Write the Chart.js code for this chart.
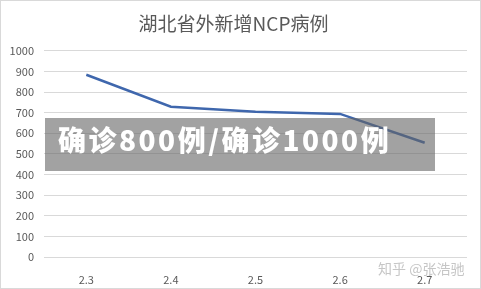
<!DOCTYPE html>
<html>
<head>
<meta charset="utf-8">
<script src="https://cdn.jsdelivr.net/npm/chart.js@4"></script>
<style>
  html, body { margin: 0; padding: 0; background: #fff; }
  #wrap { position: relative; width: 481px; height: 289px; }
  #frame { position: absolute; left: 0; top: 0; width: 479px; height: 287px; border: 1px solid #d9d9d9; pointer-events: none; }
  #band { position: absolute; left: 45px; top: 118px; width: 390px; height: 53px; background: rgba(100,100,100,0.6); }
  #bandText { position: absolute; left: 58px; top: 119px; color: #fff; font: 900 28px "Noto Sans CJK SC", sans-serif; letter-spacing: 2.5px; white-space: nowrap; }
  #mark { position: absolute; left: 378px; top: 258px; color: rgba(160,160,160,0.6); font: 14px "Noto Sans CJK SC", sans-serif; white-space: nowrap; }
</style>
</head>
<body>
<div id="wrap">
  <canvas id="chart" width="481" height="289"></canvas>
  <div id="band"></div>
  <div id="bandText">确诊800例/确诊1000例</div>
  <div id="mark">知乎 @张浩驰</div>
  <div id="frame"></div>
</div>
<script>
  // 日期与新增病例
  const dias = ['2.3', '2.4', '2.5', '2.6', '2.7'];
  const casos = [884, 729, 704, 694, 554];
  const titulo = '湖北省外新增NCP病例';

  const cinza = '#595959';

  const config = {
    type: 'line',
    data: {
      labels: dias,
      datasets: [{
        data: casos,
        borderColor: '#3f67ad',
        borderWidth: 2.5,
        pointRadius: 0,
        tension: 0,
        fill: false
      }]
    },
    options: {
      responsive: false,
      animation: false,
      layout: { padding: { left: 0, right: 14, top: 0, bottom: 0 } },
      plugins: {
        legend: { display: false },
        tooltip: { enabled: false },
        title: {
          display: true,
          text: titulo,
          color: cinza,
          font: { family: '"Noto Sans CJK SC", sans-serif', size: 19, weight: 'normal' },
          padding: { top: 12, bottom: 16 }
        }
      },
      scales: {
        x: {
          offset: true,
          grid: { display: false },
          border: { display: false },
          ticks: { color: cinza, padding: 8, font: { family: '"Noto Sans CJK SC", sans-serif', size: 11 } },
          afterFit: (s) => { s.height = 32; }
        },
        y: {
          min: 0,
          max: 1000,
          ticks: {
            stepSize: 100,
            color: cinza,
            padding: 10,
            font: { family: '"Noto Sans CJK SC", sans-serif', size: 11 },
            callback: (v) => String(v) // sem separador de milhar
          },
          grid: { color: '#d9d9d9', drawTicks: false },
          border: { display: false },
          afterFit: (s) => { s.width = 44; }
        }
      }
    }
  };

  const grafico = new Chart(document.getElementById('chart'), config);
</script>
</body>
</html>
